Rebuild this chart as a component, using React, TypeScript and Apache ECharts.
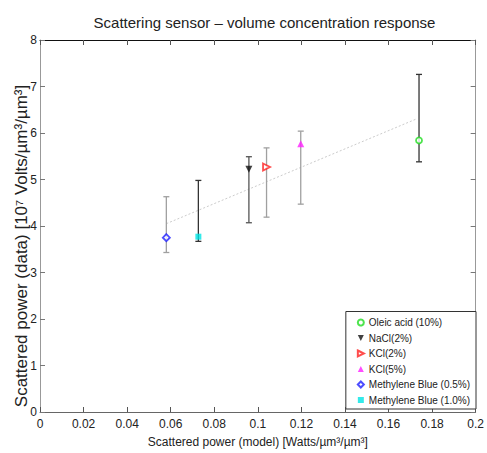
import React, { useEffect, useRef } from "react";
import * as echarts from "echarts";

const seriesNames = [
  "Oleic acid (10%)",
  "NaCl(2%)",
  "KCl(2%)",
  "KCl(5%)",
  "Methylene Blue (0.5%)",
  "Methylene Blue (1.0%)",
];
const modelPower = [0.174, 0.0959, 0.104, 0.1197, 0.058, 0.0727];
const dataPower = [5.84, 5.22, 5.27, 5.77, 3.75, 3.77];
const errLow = [5.38, 4.07, 4.19, 4.47, 3.43, 3.67];
const errHigh = [7.26, 5.49, 5.68, 6.04, 4.63, 4.98];
const trendX = [0.058, 0.1727];
const trendY = [4.05, 6.3];

const markerColors = ["#22dd22", "#111111", "#ff2020", "#ff20ff", "#2020ff", "#00e5e5"];
const markerSymbols = [
  "circle",
  "path://M0,0 L10,0 L5,10 Z",
  "path://M0,0 L10,5 L0,10 Z",
  "triangle",
  "diamond",
  "rect",
];
const markerSizes = [6, 7, 7, 7, 7, 6];
const markerHollow = [true, false, true, false, true, false];
const errColors = ["#333333", "#555555", "#a0a0a0", "#a0a0a0", "#a0a0a0", "#333333"];

const FONT = "'Liberation Sans', Arial, sans-serif";

export default function App() {
  const ref = useRef<HTMLDivElement>(null);
  useEffect(() => {
    if (!ref.current) return;
    const chart = echarts.init(ref.current, null, { renderer: "svg" });

    const scatterSeries = seriesNames.map((name, i) => ({
      name,
      type: "scatter",
      xAxisIndex: 0,
      yAxisIndex: 0,
      symbol: markerSymbols[i],
      symbolSize: markerSizes[i],
      z: 5,
      itemStyle: markerHollow[i]
        ? { color: "#ffffff", borderColor: markerColors[i], borderWidth: 1.8 }
        : { color: markerColors[i], borderColor: markerColors[i], borderWidth: 0 },
      data: [[modelPower[i], dataPower[i]]],
    }));

    const errData = seriesNames.map((_, i) => [modelPower[i], errLow[i], errHigh[i], i]);

    const option: any = {
      animation: false,
      backgroundColor: "#ffffff",
      title: {
        text: "Scattering sensor \u2013 volume concentration response",
        left: 259.5,
        textAlign: "center",
        top: 10,
        textStyle: { fontFamily: FONT, fontSize: 15, fontWeight: "normal", color: "#222" },
      },
      grid: { left: 40, right: 8, top: 40, bottom: 38, containLabel: false },
      legend: {
        orient: "vertical",
        right: 11,
        bottom: 44,
        data: seriesNames,
        backgroundColor: "#ffffff",
        borderColor: "#333",
        borderWidth: 1,
        borderRadius: 0,
        padding: [5, 6, 3, 11],
        itemWidth: 6,
        itemHeight: 6,
        itemGap: 3.5,
        textStyle: { fontFamily: FONT, fontSize: 10, color: "#222", lineHeight: 12 },
      },
      xAxis: [
        {
          type: "value",
          position: "bottom",
          min: 0,
          max: 0.2,
          interval: 0.02,
          splitLine: { show: false },
          axisLine: { show: true, onZero: false, lineStyle: { color: "#666", width: 1 } },
          axisTick: { show: true, inside: true, length: 5, lineStyle: { color: "#555" } },
          axisLabel: { fontFamily: FONT, fontSize: 12, color: "#222", margin: 6 },
          name: "Scattered power (model) [Watts/\u00b5m\u00b3/\u00b5m\u00b3]",
          nameLocation: "middle",
          nameGap: 24,
          nameTextStyle: { fontFamily: FONT, fontSize: 12, color: "#222" },
        },
        {
          type: "value",
          position: "top",
          min: 0,
          max: 0.2,
          interval: 0.02,
          splitLine: { show: false },
          axisLine: { show: true, onZero: false, lineStyle: { color: "#111", width: 1 } },
          axisTick: { show: true, inside: true, length: 5, lineStyle: { color: "#555" } },
          axisLabel: { show: false },
        },
      ],
      yAxis: [
        {
          type: "value",
          position: "left",
          min: 0,
          max: 8,
          interval: 1,
          splitLine: { show: false },
          axisLine: { show: true, onZero: false, lineStyle: { color: "#999", width: 1 } },
          axisTick: { show: true, inside: true, length: 5, lineStyle: { color: "#777" } },
          axisLabel: { fontFamily: FONT, fontSize: 12, color: "#222", margin: 3 },
        },
        {
          type: "value",
          position: "right",
          min: 0,
          max: 8,
          interval: 1,
          splitLine: { show: false },
          axisLine: { show: true, onZero: false, lineStyle: { color: "#999", width: 1 } },
          axisTick: { show: true, inside: true, length: 5, lineStyle: { color: "#777" } },
          axisLabel: { show: false },
        },
      ],
      graphic: [
        {
          type: "text",
          x: 21,
          y: 246,
          rotation: Math.PI / 2,
          style: {
            text: "Scattered power (data) [10\u2077 Volts/\u00b5m\u00b3/\u00b5m\u00b3]",
            fontFamily: FONT,
            fontSize: 17,
            fill: "#222",
            align: "center",
            verticalAlign: "middle",
          },
        },
      ],
      series: [
        {
          name: "trend",
          type: "line",
          xAxisIndex: 0,
          yAxisIndex: 0,
          data: trendX.map((x, i) => [x, trendY[i]]),
          showSymbol: false,
          symbol: "none",
          lineStyle: { color: "#cccccc", width: 1, type: [2, 2] },
          z: 1,
          silent: true,
        },
        {
          name: "errorbars",
          type: "custom",
          xAxisIndex: 0,
          yAxisIndex: 0,
          z: 2,
          silent: true,
          data: errData,
          renderItem: (params: any, api: any) => {
            const x = api.value(0);
            const lo = api.coord([x, api.value(1)]);
            const hi = api.coord([x, api.value(2)]);
            const idx = api.value(3);
            const color = errColors[idx];
            const w = 3;
            const st = { stroke: color, lineWidth: 1.3 };
            return {
              type: "group",
              children: [
                { type: "line", shape: { x1: lo[0], y1: lo[1], x2: hi[0], y2: hi[1] }, style: st },
                { type: "line", shape: { x1: lo[0] - w, y1: lo[1], x2: lo[0] + w, y2: lo[1] }, style: st },
                { type: "line", shape: { x1: hi[0] - w, y1: hi[1], x2: hi[0] + w, y2: hi[1] }, style: st },
              ],
            };
          },
        },
        ...scatterSeries,
      ],
    };
    chart.setOption(option);
    return () => chart.dispose();
  }, []);
  return (
    <div
      ref={ref}
      style={{ position: "fixed", left: 0, top: 0, width: 487, height: 453, background: "#fff" }}
    />
  );
}
